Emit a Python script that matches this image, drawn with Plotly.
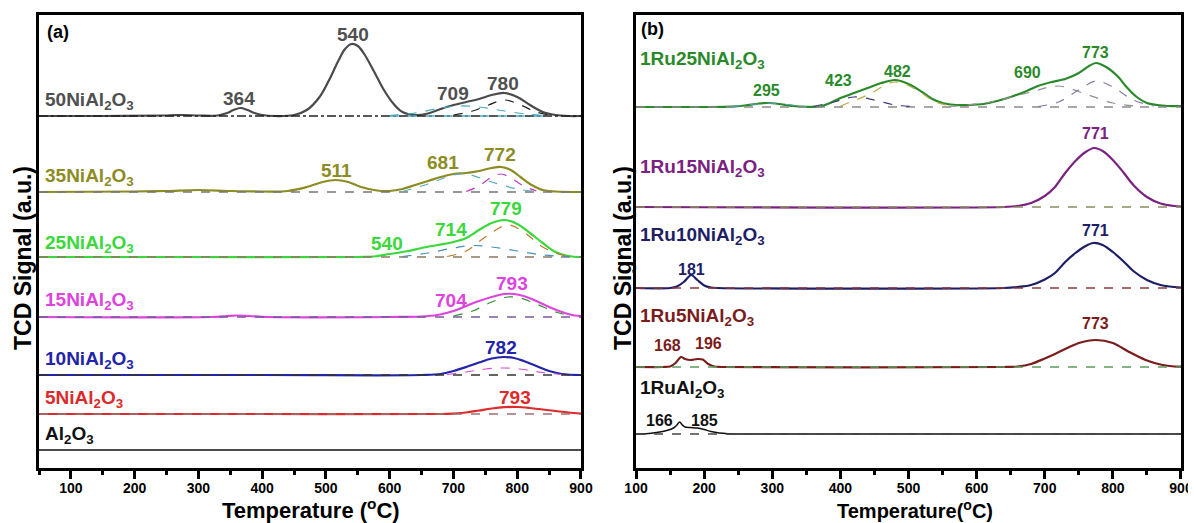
import plotly.graph_objects as go

# ---------------- panel (a): NiAl2O3 series ----------------
# temperatures (°C) and signal above each baseline (a.u.)
A_NAMES = ["50NiAl<sub>2</sub>O<sub>3</sub>", "35NiAl<sub>2</sub>O<sub>3</sub>", "25NiAl<sub>2</sub>O<sub>3</sub>",
           "15NiAl<sub>2</sub>O<sub>3</sub>", "10NiAl<sub>2</sub>O<sub>3</sub>", "5NiAl<sub>2</sub>O<sub>3</sub>",
           "Al<sub>2</sub>O<sub>3</sub>"]
A_OFFSETS = [352, 276, 211, 151, 93, 54, 18]
A_COLORS = ["#4a4a4a", "#8c8c23", "#3ad83a", "#dd44dd", "#2424a8", "#dd2a2a", "#111111"]

A50_T = [50, 150, 250, 275, 300, 330, 345, 355, 366, 377, 388, 400, 420, 450, 470, 490, 505, 520, 530, 540,
         550, 560, 575, 590, 605, 620, 640, 660, 680, 700, 720, 740, 760, 780, 800, 820, 840, 860, 880, 900]
A50_S = [0, 0, 0.5, 1, 0.5, 0.5, 3, 6, 8, 6, 3, 1, 0, 1, 6, 19, 36, 56, 67, 72,
         70, 62, 45, 27, 13, 4, 1, 2.5, 7, 11, 14, 17, 21, 23, 19, 11, 4, 1, 0, 0]
A35_T = [50, 200, 250, 300, 350, 400, 440, 470, 495, 515, 535, 555, 580, 600, 620, 640, 660, 680, 700, 720,
         740, 760, 775, 790, 805, 820, 840, 860, 900]
A35_S = [0, 0.5, 1, 2, 1, 0.5, 1, 5, 10, 12, 10, 5, 1.5, 1, 3, 7, 11, 15, 18, 19,
         21, 24, 25, 22, 15, 8, 2, 0.5, 0]
A25_T = [50, 300, 550, 575, 600, 625, 650, 675, 700, 720, 740, 760, 780, 800, 820, 840, 860, 880, 900]
A25_S = [0, 0, 0, 0.5, 3, 5.5, 9, 12, 15, 19, 27, 34, 37, 33, 24, 14, 5, 1, 0]
A15_T = [50, 320, 345, 360, 380, 410, 600, 650, 675, 700, 720, 740, 760, 780, 795, 810, 830, 850, 870, 890, 900]
A15_S = [0, 0, 1, 1.5, 1, 0, 0, 0.5, 2, 6, 11, 16, 20, 23, 23, 21, 16, 10, 5, 1.5, 1]
A10_T = [50, 400, 650, 680, 700, 720, 740, 760, 778, 795, 810, 830, 850, 870, 900]
A10_S = [0, 0, 0, 1, 4, 8, 12.5, 16.5, 18, 17, 14, 9, 4, 1, 0]
A5_T = [50, 400, 680, 700, 720, 740, 760, 780, 800, 820, 840, 860, 880, 900]
A5_S = [0, 0, 0, 0.5, 1.5, 3.5, 5.5, 6.8, 7, 6, 4.5, 3, 1.5, 0.5]
AAL_T = [50, 900]
AAL_S = [0, 0]

# fitted components (dashed)
C50_709_T = [600, 640, 680, 710, 740, 780, 820, 850]
C50_709_S = [0.5, 3, 8, 10, 9, 5, 1.5, 0.3]
C50_780_T = [700, 730, 755, 780, 805, 830, 850]
C50_780_S = [1, 5, 11, 16, 11, 4, 1]
C35_681_T = [620, 660, 700, 720, 760, 800, 830]
C35_681_S = [0.5, 8, 17, 18, 10, 3, 0.5]
C35_772_T = [720, 740, 760, 775, 790, 810, 830]
C35_772_S = [0.5, 6, 15, 18, 14, 6, 1]
C25_714_T = [620, 660, 700, 730, 760, 800, 840, 880]
C25_714_S = [0.5, 4, 9, 11.5, 10, 6, 2, 0.5]
C25_779_T = [690, 720, 750, 785, 810, 840, 865, 885]
C25_779_S = [0.5, 6, 20, 32, 25, 10, 3, 0.5]
C15_793_T = [700, 730, 760, 785, 805, 830, 860, 885]
C15_793_S = [1, 6, 15, 20, 19, 13, 5, 1]
C10_790_T = [690, 720, 750, 780, 810, 840, 870]
C10_790_S = [0.5, 3, 6, 7, 5.5, 2.5, 0.5]

# ---------------- panel (b): Ru-NiAl2O3 series ----------------
B_NAMES = ["1Ru25NiAl<sub>2</sub>O<sub>3</sub>", "1Ru15NiAl<sub>2</sub>O<sub>3</sub>", "1Ru10NiAl<sub>2</sub>O<sub>3</sub>",
           "1Ru5NiAl<sub>2</sub>O<sub>3</sub>", "1RuAl<sub>2</sub>O<sub>3</sub>"]
B_OFFSETS = [361, 261, 180, 101, 34]
B_COLORS = ["#2a8a2a", "#7a2280", "#1e1e66", "#7b1c1c", "#111111"]

B25_T = [100, 200, 240, 260, 280, 295, 310, 330, 350, 370, 385, 400, 420, 440, 460, 480, 500, 520, 535, 550,
         570, 590, 610, 630, 650, 670, 690, 710, 730, 750, 765, 775, 790, 808, 820, 835, 850, 865, 880, 900]
B25_S = [0, 0, 0.3, 1.5, 3.5, 4, 3, 1, 0.2, 0.5, 4, 9, 14, 19, 24, 27, 23, 15, 8, 4,
         2, 2, 3, 6, 10, 15, 21, 25, 28, 34, 41, 44, 40, 30, 20, 10, 4, 2, 1, 1]
B15_T = [100, 640, 660, 680, 700, 715, 730, 745, 760, 772, 785, 800, 815, 830, 850, 870, 890, 900]
B15_S = [0, 0, 1, 4, 11, 20, 34, 46, 55, 59, 56, 47, 35, 22, 10, 3.5, 1, 0.5]
B10_T = [100, 150, 160, 170, 181, 190, 200, 210, 220, 640, 660, 680, 700, 715, 730, 745, 760, 771, 785, 800,
         815, 830, 850, 870, 890, 900]
B10_S = [0, 0, 1.5, 6, 13, 8, 2.5, 0.5, 0, 0, 1, 3, 8.5, 15, 26, 35, 42, 45, 43, 36,
         27, 17, 8, 3, 1, 0.5]
B5_T = [100, 140, 150, 158, 166, 172, 180, 190, 198, 206, 215, 225, 640, 660, 680, 700, 715, 730, 750, 775,
        800, 824, 848, 873, 890, 900]
B5_S = [0, 0, 0.5, 4, 10, 8, 7, 8, 7.5, 3, 0.5, 0, 0, 0.5, 3, 8.5, 13, 18, 24, 27,
        24, 15, 7, 2, 0.5, 0.3]
BAL_T = [100, 115, 130, 145, 155, 160, 164, 168, 172, 180, 190, 200, 210, 222, 235, 250, 900]
BAL_S = [0, 0.3, 1.5, 3.5, 6, 9, 12, 9, 7, 6.5, 6, 4.5, 2.5, 1, 0.3, 0, 0]

D25_295_T = [240, 270, 295, 320, 350]
D25_295_S = [0.3, 2.5, 3.8, 2.5, 0.3]
D25_423_T = [360, 390, 420, 450, 480, 510]
D25_423_S = [0.5, 5, 10, 7, 2, 0.3]
D25_482_T = [400, 440, 480, 510, 540, 570]
D25_482_S = [1, 12, 25, 18, 5, 0.5]
D25_690_T = [560, 620, 680, 720, 760, 800, 840]
D25_690_S = [0.5, 5, 15, 21, 13, 4, 0.5]
D25_773_T = [690, 720, 750, 775, 800, 830, 860]
D25_773_S = [0.5, 5, 17, 26, 20, 7, 1]

FONT = "Arial, Liberation Sans, sans-serif"

fig = go.Figure()


def curve(t, s, off, color, xa, ya, width=2.2, dash="solid", smooth=1.0):
    fig.add_trace(go.Scatter(x=t, y=[off + v for v in s], mode="lines", xaxis=xa, yaxis=ya,
                             line=dict(color=color, width=width, dash=dash, shape="spline", smoothing=smooth),
                             hoverinfo="skip"))


# main curves, panel a
a_series = [(A50_T, A50_S), (A35_T, A35_S), (A25_T, A25_S), (A15_T, A15_S), (A10_T, A10_S), (A5_T, A5_S),
            (AAL_T, AAL_S)]
for (t, s), off, c in zip(a_series, A_OFFSETS, A_COLORS):
    curve(t, s, off, c, "x", "y", width=2.2 if c != "#111111" else 1.5)

# baselines, panel a
a_base_style = [("#222222", "dashdot"), ("#777777", "dash"), ("#8a7a60", "dash"), ("#7a5a9a", "dash"),
                ("#333333", "dash"), ("#a07070", "dash")]
for off, (c, d) in zip(A_OFFSETS[:6], a_base_style):
    curve([50, 900], [0, 0], off, c, "x", "y", width=1.6, dash=d)
curve([600, 850], [0, 0], A_OFFSETS[0], "#4aa8c0", "x", "y", width=1.6, dash="dash")

# components, panel a
a_comps = [(C50_709_T, C50_709_S, 0, "#4aa8c0"), (C50_780_T, C50_780_S, 0, "#222222"),
           (C35_681_T, C35_681_S, 1, "#5aaabb"), (C35_772_T, C35_772_S, 1, "#c040c0"),
           (C25_714_T, C25_714_S, 2, "#4a90b8"), (C25_779_T, C25_779_S, 2, "#c07830"),
           (C15_793_T, C15_793_S, 3, "#3a8a3a"), (C10_790_T, C10_790_S, 4, "#d050d0")]
for t, s, i, c in a_comps:
    curve(t, s, A_OFFSETS[i], c, "x", "y", width=1.2, dash="dash")

# main curves, panel b
b_series = [(B25_T, B25_S), (B15_T, B15_S), (B10_T, B10_S), (B5_T, B5_S), (BAL_T, BAL_S)]
for (t, s), off, c in zip(b_series, B_OFFSETS, B_COLORS):
    curve(t, s, off, c, "x2", "y2", width=2.2 if c != "#111111" else 1.5, smooth=0.8)

b_base_style = ["#8a8a8a", "#8a8a60", "#8a3a3a", "#5a9a5a", "#444444"]
for off, c in zip(B_OFFSETS, b_base_style):
    curve([100, 900], [0, 0], off, c, "x2", "y2", width=1.6, dash="dash")

b_comps = [(D25_295_T, D25_295_S, "#50a0a0"), (D25_423_T, D25_423_S, "#3a3a7a"),
           (D25_482_T, D25_482_S, "#b8a848"), (D25_690_T, D25_690_S, "#909090"),
           (D25_773_T, D25_773_S, "#8a7aa0")]
for t, s, c in b_comps:
    curve(t, s, B_OFFSETS[0], c, "x2", "y2", width=1.2, dash="dash")

# ---------------- annotations ----------------
ann = []


def label(x, y, text, color, size, xr, yr, anchor="center", angle=0):
    ann.append(dict(x=x, y=y, xref=xr, yref=yr, text=text, showarrow=False, xanchor=anchor, yanchor="middle",
                    textangle=angle, font=dict(family=FONT, size=size, color=color, weight="bold")))


a_label_y = [367, 291, 224, 167, 108, 69, 33]
for name, y, c in zip(A_NAMES, a_label_y, A_COLORS):
    label(57, y, name, c if c != "#4a4a4a" else "#505050", 19, "x", "y", "left")

a_peaks = [("364", 364, 370, 0), ("540", 543, 434, 0), ("709", 699, 375, 0), ("780", 778, 385, 0),
           ("511", 516, 298, 1), ("681", 684, 306, 1), ("772", 773, 314, 1),
           ("779", 782, 260, 2), ("714", 696, 239, 2), ("540", 595, 225, 2),
           ("793", 792, 185, 3), ("704", 696, 168, 3), ("782", 775, 121, 4), ("793", 796, 71, 5)]
for txt, x, y, i in a_peaks:
    label(x, y, txt, "#505050" if i == 0 else A_COLORS[i], 19, "x", "y")
label(80, 436, "(a)", "#000000", 18, "x", "y")

b_label_y = [408, 300, 232, 151, 79]
for name, y, c in zip(B_NAMES, b_label_y, B_COLORS):
    label(103, y, name, c, 19, "x2", "y2", "left")

b_peaks = [("295", 291, 378, 0), ("423", 397, 388, 0), ("482", 484, 397, 0), ("690", 675, 396, 0),
           ("773", 774, 416, 0), ("771", 774, 335, 1), ("771", 774, 238, 2), ("181", 182, 199, 2),
           ("168", 146, 123, 3), ("196", 207, 125, 3), ("773", 774, 145, 3),
           ("166", 134, 48, 4), ("185", 201, 48, 4)]
for txt, x, y, i in b_peaks:
    label(x, y, txt, B_COLORS[i], 16, "x2", "y2")
label(124, 439, "(b)", "#000000", 18, "x2", "y2")

# axis titles (paper coordinates)
label(0.2382, -0.091, "Temperature (<sup>o</sup>C)", "#000000", 22, "paper", "paper")
label(0.7671, -0.091, "Temperature(<sup>o</sup>C)", "#000000", 20, "paper", "paper")
label(-0.014, 0.4636, "TCD Signal (a.u.)", "#000000", 23, "paper", "paper", angle=-90)
label(0.5114, 0.4636, "TCD Signal (a.u.)", "#000000", 23, "paper", "paper", angle=-90)

axis_common = dict(showline=True, mirror=True, linewidth=3, linecolor="black", showgrid=False, zeroline=False,
                   automargin=False)
xcommon = dict(axis_common, dtick=100, tick0=0, ticks="outside", ticklen=8, tickwidth=2.5, tickcolor="black",
               ticklabelstandoff=-3,
               minor=dict(dtick=50, tick0=0, ticks="outside", ticklen=4, tickwidth=2.5, tickcolor="black"),
               tickfont=dict(family=FONT, size=14, color="black", weight="bold"))
ycommon = dict(axis_common, range=[0, 453], showticklabels=False, ticks="")

# the page body adds an 8px margin, so the figure is 8px smaller than the window
fig.update_layout(
    width=1188, height=515,
    margin=dict(l=31, r=15, t=7, b=55),
    plot_bgcolor="white", paper_bgcolor="white",
    showlegend=False,
    xaxis=dict(xcommon, domain=[0, 0.4746], range=[50, 900], anchor="y"),
    xaxis2=dict(xcommon, domain=[0.5228, 1], range=[100, 900], anchor="y2"),
    yaxis=dict(ycommon, domain=[0, 1], anchor="x"),
    yaxis2=dict(ycommon, domain=[0, 1], anchor="x2"),
    annotations=ann,
)

fig.write_html("out.html")
